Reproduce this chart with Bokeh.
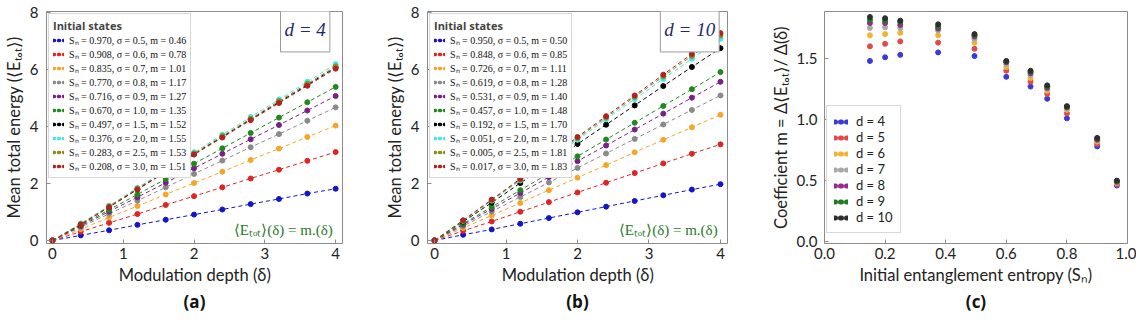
from bokeh.plotting import figure
from bokeh.layouts import row
from bokeh.models import Legend, LegendItem, Label, Title, Range1d, PrintfTickFormatter
from bokeh.embed import file_html
from bokeh.resources import INLINE

# ---------------- data ----------------
delta = [0, 0.4, 0.8, 1.2, 1.6, 2.0, 2.4, 2.8, 3.2, 3.6, 4.0]
sigma = [0.5, 0.6, 0.7, 0.8, 0.9, 1.0, 1.5, 2.0, 2.5, 3.0]
series_colors = ["#1414c8", "#e02424", "#f4a62a", "#8a8a8a", "#7a1f86",
                 "#1e8a1e", "#000000", "#44e6e6", "#8c8c1e", "#b22222"]

# panel (a): d = 4
sn_a = [0.970, 0.908, 0.835, 0.770, 0.716, 0.670, 0.497, 0.376, 0.283, 0.208]
m_a = [0.46, 0.78, 1.01, 1.17, 1.27, 1.35, 1.52, 1.55, 1.53, 1.51]
energy_a = [
    [0, 0.18, 0.36, 0.55, 0.73, 0.91, 1.09, 1.28, 1.46, 1.65, 1.82],
    [0, 0.31, 0.62, 0.93, 1.25, 1.56, 1.87, 2.18, 2.49, 2.80, 3.11],
    [0, 0.40, 0.81, 1.21, 1.62, 2.02, 2.42, 2.83, 3.23, 3.64, 4.04],
    [0, 0.47, 0.94, 1.40, 1.87, 2.34, 2.81, 3.28, 3.74, 4.21, 4.68],
    [0, 0.51, 1.02, 1.52, 2.03, 2.54, 3.05, 3.56, 4.06, 4.57, 5.08],
    [0, 0.54, 1.08, 1.62, 2.16, 2.70, 3.24, 3.78, 4.32, 4.86, 5.40],
    [0, 0.56, 1.18, 1.80, 2.42, 3.04, 3.65, 4.26, 4.86, 5.47, 6.08],
    [0, 0.60, 1.22, 1.85, 2.47, 3.10, 3.72, 4.34, 4.96, 5.58, 6.20],
    [0, 0.58, 1.20, 1.83, 2.44, 3.06, 3.67, 4.28, 4.90, 5.51, 6.12],
    [0, 0.56, 1.17, 1.79, 2.41, 3.02, 3.62, 4.23, 4.83, 5.44, 6.04],
]

# panel (b): d = 10
sn_b = [0.950, 0.848, 0.726, 0.619, 0.531, 0.457, 0.192, 0.051, 0.005, 0.017]
m_b = [0.50, 0.85, 1.11, 1.28, 1.40, 1.48, 1.70, 1.78, 1.81, 1.83]
energy_b = [
    [0, 0.20, 0.39, 0.59, 0.79, 0.99, 1.19, 1.39, 1.59, 1.79, 1.98],
    [0, 0.34, 0.67, 1.01, 1.35, 1.69, 2.03, 2.37, 2.71, 3.05, 3.38],
    [0, 0.44, 0.88, 1.32, 1.77, 2.21, 2.65, 3.10, 3.54, 3.98, 4.42],
    [0, 0.51, 1.02, 1.53, 2.04, 2.55, 3.06, 3.57, 4.08, 4.59, 5.10],
    [0, 0.56, 1.11, 1.67, 2.23, 2.79, 3.34, 3.90, 4.46, 5.02, 5.58],
    [0, 0.59, 1.18, 1.77, 2.36, 2.96, 3.55, 4.14, 4.73, 5.32, 5.92],
    [0, 0.66, 1.33, 2.02, 2.70, 3.39, 4.07, 4.75, 5.43, 6.10, 6.76],
    [0, 0.69, 1.40, 2.11, 2.83, 3.54, 4.26, 4.97, 5.68, 6.39, 7.09],
    [0, 0.70, 1.42, 2.14, 2.87, 3.60, 4.32, 5.05, 5.77, 6.49, 7.21],
    [0, 0.71, 1.44, 2.17, 2.90, 3.64, 4.37, 5.10, 5.83, 6.56, 7.29],
]

# panel (c): coefficient m vs initial entanglement entropy
sn_c = [0.15, 0.20, 0.25, 0.375, 0.495, 0.60, 0.68, 0.735, 0.80, 0.90, 0.965]
dims = [4, 5, 6, 7, 8, 9, 10]
dim_colors = ["#3b3bd0", "#e04a4a", "#f2b233", "#a9a9a9", "#962a8e", "#1f7a1f", "#2e2e2e"]
m_c = [
    [1.48, 1.51, 1.53, 1.55, 1.52, 1.35, 1.27, 1.17, 1.01, 0.78, 0.46],
    [1.60, 1.62, 1.64, 1.63, 1.58, 1.40, 1.31, 1.21, 1.05, 0.80, 0.47],
    [1.69, 1.70, 1.71, 1.69, 1.63, 1.43, 1.34, 1.235, 1.08, 0.82, 0.48],
    [1.75, 1.755, 1.75, 1.73, 1.66, 1.455, 1.365, 1.25, 1.09, 0.83, 0.485],
    [1.79, 1.79, 1.775, 1.745, 1.68, 1.47, 1.38, 1.26, 1.10, 0.835, 0.49],
    [1.815, 1.81, 1.80, 1.76, 1.69, 1.475, 1.39, 1.27, 1.105, 0.845, 0.495],
    [1.84, 1.83, 1.81, 1.78, 1.70, 1.48, 1.40, 1.28, 1.11, 0.85, 0.50],
]

SANS = "Lato"
SERIF = "Liberation Serif"
NAN = float("nan")


def style(p, ystand=8):
    p.xgrid.visible = False
    p.ygrid.visible = False
    p.outline_line_color = "#8c8c8c"
    p.outline_line_width = 1
    p.background_fill_color = "white"
    p.border_fill_color = "white"
    for ax in (p.xaxis[0], p.yaxis[0]):
        ax.axis_line_color = None
        ax.major_tick_in = 4
        ax.major_tick_out = 0
        ax.major_tick_line_color = "#8c8c8c"
        ax.minor_tick_line_color = None
        ax.major_label_text_font = SANS
        ax.major_label_text_font_size = "15px"
        ax.major_label_text_color = "#222222"
        ax.axis_label_text_font = SANS
        ax.axis_label_text_font_size = "16.5px"
        ax.axis_label_text_font_style = "normal"
        ax.axis_label_text_color = "#222222"
        ax.axis_label_standoff = 3
    p.xaxis[0].major_label_standoff = 4
    p.yaxis[0].major_label_standoff = ystand


def add_tag(p, tag):
    p.add_layout(Title(text=tag, align="center", text_font="Open Sans",
                       text_font_size="17px", text_font_style="bold",
                       text_color="#111111", standoff=1, offset=0), "below")


def energy_panel(sn, m, energy, dval, tag, width, bl, br, xr):
    p = figure(width=width, height=321, output_backend="svg", toolbar_location=None,
               x_range=Range1d(*xr), y_range=Range1d(-0.105, 8.05),
               min_border_left=bl, min_border_right=br, min_border_top=11,
               min_border_bottom=78)
    style(p)
    p.xaxis.ticker = [0, 1, 2, 3, 4]
    p.yaxis.ticker = [0, 2, 4, 6, 8]
    p.xaxis.axis_label = "Modulation depth (δ)"
    p.yaxis.axis_label = "Mean total energy (⟨Eₜₒₜ⟩)"
    items = []
    for i, ys in enumerate(energy):
        c = series_colors[i]
        p.line(delta, ys, line_color=c, line_dash="4 3", line_width=1)
        p.scatter(delta, ys, size=5, color=c, line_color=c)
        sw = p.line(x=[NAN], y=[NAN], line_color=c, line_dash="1 4", line_width=3.5,
                    line_cap="round")
        lab = f"S\u2099 = {sn[i]:.3f}, σ = {sigma[i]:.1f}, m = {m[i]:.2f}"
        items.append(LegendItem(label=lab, renderers=[sw]))
    leg = Legend(items=items, location="top_left", margin=2, padding=4, spacing=-2,
                 glyph_width=11, glyph_height=10, label_height=10,
                 label_text_font=SERIF, label_text_font_size="10px",
                 label_standoff=5, label_text_color="#111111",
                 title="Initial states", title_text_font="Open Sans",
                 title_text_font_style="bold", title_text_font_size="11px",
                 title_standoff=0, title_location="above",
                 border_line_color="#b0b0b0", background_fill_alpha=1)
    p.add_layout(leg)
    p.add_layout(Label(x=3.57, y=7.42, text=f"d = {dval}", text_font=SERIF,
                       text_font_style="italic", text_font_size="19px",
                       text_color="#1f2a6e", text_align="center", text_baseline="middle",
                       border_line_color="#9a9a9a", background_fill_color="white",
                       padding=(4, 12)))
    p.add_layout(Label(x=3.96, y=0.38, text="⟨Eₜₒₜ⟩(δ) = m.(δ)", text_font=SERIF,
                       text_font_size="15px", text_color="#2a7a2a",
                       text_align="right", text_baseline="middle"))
    add_tag(p, tag)
    return p


pa = energy_panel(sn_a, m_a, energy_a, 4, "(a)", 380, 42, 38, (-0.084, 4.097))
pb = energy_panel(sn_b, m_b, energy_b, 10, "(b)", 384, 47, 37, (-0.098, 4.098))

pc = figure(width=372, height=321, output_backend="svg", toolbar_location=None,
            x_range=Range1d(0, 1), y_range=Range1d(-0.015, 1.885),
            min_border_left=60, min_border_right=9, min_border_top=11,
            min_border_bottom=78)
style(pc, ystand=7)
pc.xaxis.ticker = [0.0, 0.2, 0.4, 0.6, 0.8, 1.0]
pc.yaxis.ticker = [0.0, 0.5, 1.0, 1.5]
pc.xaxis.formatter = PrintfTickFormatter(format="%.1f")
pc.yaxis.formatter = PrintfTickFormatter(format="%.1f")
pc.xaxis.axis_label = "Initial entanglement entropy (S\u2099)"
pc.yaxis.axis_label = "Coefficient m = Δ⟨Eₜₒₜ⟩/ Δ(δ)"
citems = []
for j, d in enumerate(dims):
    c = dim_colors[j]
    pc.scatter(sn_c, m_c[j], size=5, color=c, line_color=c)
    sw = pc.line(x=[NAN], y=[NAN], line_color=c, line_dash="1 5", line_width=5,
                 line_cap="round")
    citems.append(LegendItem(label=f"d = {d}", renderers=[sw]))
cleg = Legend(items=citems, location=(2, 10), padding=7, spacing=-3,
              glyph_width=14, glyph_height=13, label_height=13,
              label_text_font=SANS, label_text_font_size="13px", label_standoff=8,
              label_text_color="#222222", border_line_color="#b0b0b0")
pc.add_layout(cleg)
add_tag(pc, "(c)")

layout = row(pa, pb, pc)
open("out.html", "w").write(file_html(layout, INLINE))
